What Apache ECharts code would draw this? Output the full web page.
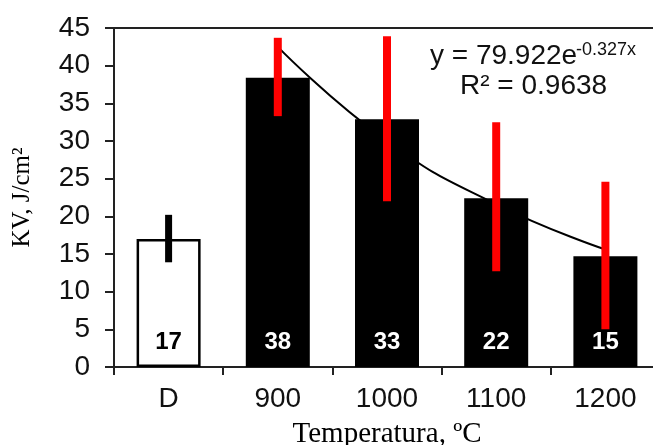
<!DOCTYPE html>
<html>
<head>
<meta charset="utf-8">
<script src="https://cdn.jsdelivr.net/npm/echarts@6/dist/echarts.min.js"></script>
<style>
html,body{margin:0;padding:0;background:#fff;}
#c{width:653px;height:445px;}
</style>
</head>
<body>
<div id="c"></div>
<script>
var categories = ['D', '900', '1000', '1100', '1200'];
var kvValues = [17.0, 38.4, 32.9, 22.4, 14.7];
var errLow = [13.9, 33.3, 22.0, 12.7, 5.0];
var errHigh = [20.2, 43.7, 43.9, 32.5, 24.6];
var trendValues = [null, 42.5, 30.0, 21.6, 15.6];
var errColors = ['#000000', '#ff0000', '#ff0000', '#ff0000', '#ff0000'];
var barFills = ['#ffffff', '#000000', '#000000', '#000000', '#000000'];
var labelColors = ['#000000', '#ffffff', '#ffffff', '#ffffff', '#ffffff'];
var yMin = 0, yMax = 45, yStep = 5;
var eqMain = 'y = 79.922e';
var eqSup = '-0.327x';
var eqR2 = 'R\u00b2 = 0.9638';
var xName = 'Temperatura, \u00baC';
var yName = 'KV, J/cm\u00b2';

var chart = echarts.init(document.getElementById('c'));
var sans = 'Liberation Sans, Arial, sans-serif';
var serif = 'Liberation Serif, Times New Roman, serif';

var barData = kvValues.map(function (v, i) {
  return {
    value: v,
    itemStyle: { color: barFills[i], borderColor: '#000', borderWidth: i === 0 ? 2.5 : 0 },
    label: { color: labelColors[i] }
  };
});
var errData = categories.map(function (c, i) { return [i, errLow[i], errHigh[i]]; });

chart.setOption({
  animation: false,
  backgroundColor: '#fff',
  grid: { left: 114, top: 28, bottom: 78, right: -7, containLabel: false, outerBoundsMode: 'none', show: true, borderColor: '#222', borderWidth: 2, backgroundColor: 'transparent' },
  xAxis: {
    type: 'category',
    data: categories,
    axisLine: { lineStyle: { color: '#222', width: 2 } },
    axisTick: { show: true, length: 8, lineStyle: { color: '#222', width: 2 } },
    axisLabel: { fontFamily: sans, fontSize: 28, color: '#111', margin: 18 },
    name: xName,
    nameLocation: 'middle',
    nameGap: 53,
    nameTextStyle: { fontFamily: serif, fontSize: 29, color: '#000' }
  },
  yAxis: {
    type: 'value',
    min: yMin, max: yMax, interval: yStep,
    splitLine: { show: false },
    axisLine: { show: true, lineStyle: { color: '#222', width: 2 } },
    axisTick: { show: true, length: 9, lineStyle: { color: '#222', width: 2 } },
    axisLabel: { fontFamily: sans, fontSize: 28, color: '#111', margin: 24 },
    name: yName,
    nameLocation: 'middle',
    nameGap: 79,
    nameRotate: 90,
    nameTextStyle: { fontFamily: serif, fontSize: 25, color: '#000' }
  },
  series: [
    {
      type: 'bar',
      data: barData,
      barWidth: 64,
      z: 2,
      label: {
        show: true,
        position: 'insideBottom',
        distance: 13,
        fontFamily: sans,
        fontWeight: 'bold',
        fontSize: 24,
        formatter: function (p) { return Math.round(p.value); }
      }
    },
    {
      type: 'line',
      data: trendValues,
      smooth: true,
      symbol: 'none',
      z: 3,
      lineStyle: { color: '#000', width: 2 }
    },
    {
      type: 'custom',
      data: errData,
      z: 4,
      renderItem: function (params, api) {
        var i = api.value(0);
        var hi = api.coord([i, api.value(2)]);
        var lo = api.coord([i, api.value(1)]);
        var w = i === 0 ? 7 : 8;
        return {
          type: 'rect',
          shape: { x: hi[0] - w / 2, y: hi[1], width: w, height: lo[1] - hi[1] },
          style: { fill: errColors[i] }
        };
      }
    }
  ],
  graphic: [
    { type: 'text', left: 430, top: 42, style: { text: eqMain, font: '28px ' + sans, fill: '#111' }, z: 10 },
    { type: 'text', left: 576, top: 41, style: { text: eqSup, font: '18px ' + sans, fill: '#111' }, z: 10 },
    { type: 'text', left: 460, top: 72, style: { text: eqR2, font: '28px ' + sans, fill: '#111' }, z: 10 }
  ]
});
</script>
</body>
</html>
